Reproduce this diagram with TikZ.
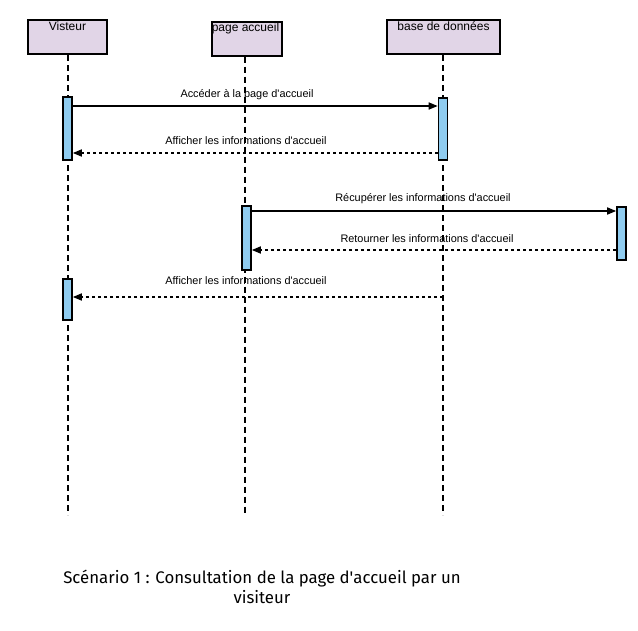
\documentclass[tikz,border=0pt]{standalone}
\usepackage{fontspec}
\setmainfont{Liberation Sans}
\newfontfamily\capfont{Fira Sans}
\usetikzlibrary{arrows.meta,calc}
\definecolor{hdrfill}{RGB}{225,213,231}
\definecolor{actfill}{RGB}{143,204,240}
\newcommand{\ap}{\textquotesingle}
\begin{document}
\begin{tikzpicture}[x=1pt,y=-1pt,
  hdr/.style={draw=black,line width=2pt,fill=hdrfill,minimum height=34pt,inner sep=0pt},
  act/.style={draw=black,line width=1.6pt,fill=actfill,minimum width=9pt,inner sep=0pt},
  life/.style={line width=1.8pt,dash pattern=on 6pt off 4pt},
  msg/.style={line width=1.6pt,-{Triangle[length=9pt,width=7pt]}},
  ret/.style={line width=1.6pt,dash pattern=on 3pt off 3pt,-{Triangle[length=9pt,width=7pt]}},
  lbl/.style={font=\fontsize{10.9}{13}\selectfont,inner sep=0pt,anchor=base}]
\useasboundingbox (0,0) rectangle (638,630);
% headers
\node[hdr,minimum width=79pt] (hv) at (67.5,37) {};
\node[hdr,minimum width=70pt] (hp) at (246.5,38.5) {};
\node[hdr,minimum width=113pt] (hd) at (443.5,37) {};
\node[font=\fontsize{12}{14}\selectfont,anchor=base] (tv) at (67.5,30) {Visteur};
\node[font=\fontsize{12}{14}\selectfont,anchor=base] (tp) at (245.5,31) {page accueil};
\node[font=\fontsize{12}{14}\selectfont,anchor=base] (td) at (443.5,30) {base de données};
% lifelines
\coordinate (ev) at (68,515);
\coordinate (ep) at (245,515);
\coordinate (ed) at (443,515);
\draw[life] (hv.south -| ev) -- (ev);
\draw[life] (hp.south -| ep) -- (ep);
\draw[life] (hd.south -| ed) -- (ed);
% activations
\node[act,minimum height=63pt] (v1) at (67.5,128.5) {};
\node[act,minimum height=62pt] (d1) at (443,129) {};
\node[act,minimum height=64pt] (p1) at (246.5,238) {};
\node[act,minimum height=53pt] (r1) at (621.5,233.5) {};
\node[act,minimum height=41pt] (v2) at (67.5,299.5) {};
% message rows
\coordinate (m1) at (0,106);
\coordinate (m2) at (0,153);
\coordinate (m3) at (0,211);
\coordinate (m4) at (0,250);
\coordinate (m5) at (0,297);
\draw[msg] (v1.east |- m1) -- (d1.west |- m1);
\draw[ret] (d1.west |- m2) -- (v1.east |- m2);
\draw[msg] (p1.east |- m3) -- (r1.west |- m3);
\draw[ret] (r1.west |- m4) -- (p1.east |- m4);
\draw[ret] (ed |- m5) -- (v2.east |- m5);
% labels
\node[lbl] (l1) at (247,97) {Accéder à la page d\ap accueil};
\node[lbl] (l2) at (246,144) {Afficher les informations d\ap accueil};
\node[lbl] (l3) at (423,201) {Récupérer les informations d\ap accueil};
\node[lbl] (l4) at (427,242) {Retourner les informations d\ap accueil};
\node[lbl] (l5) at (246,284) {Afficher les informations d\ap accueil};
% caption
\node[font=\capfont\fontsize{16.8}{20}\selectfont,align=center,anchor=north] (cap) at (262,567)
  {Scénario 1 : Consultation de la page d\ap accueil par un\\visiteur};
\end{tikzpicture}
\end{document}
